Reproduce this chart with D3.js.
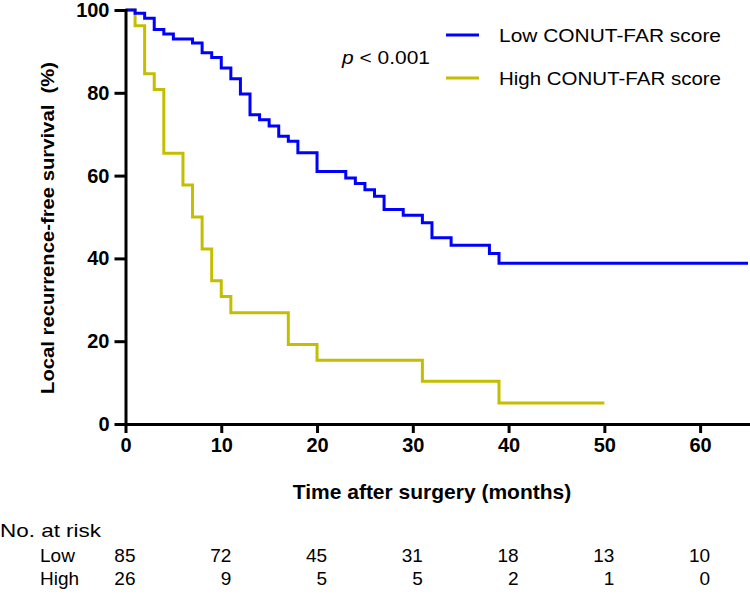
<!DOCTYPE html>
<html>
<head>
<meta charset="utf-8">
<script src="https://cdn.jsdelivr.net/npm/d3@7"></script>
<style>
  body { margin: 0; background: #fff; }
  text { font-family: Arial, "Liberation Sans", sans-serif; fill: #000; }
</style>
</head>
<body>
<svg id="chart"></svg>
<script>
'use strict'

const width = 750, height = 594

// Kaplan-Meier steps (months, % survival)
const lowTimes = [0, 1, 2, 3, 4, 5, 7, 8, 9, 10, 11, 12, 13, 14, 15, 16, 17, 18, 20, 23, 24, 25, 26, 27, 29, 31, 32, 34, 38, 39, 65]
const lowSurv  = [100, 99.2, 98.0, 95.3, 94.2, 93.0, 92.0, 89.7, 88.5, 86.0, 83.4, 79.7, 74.7, 73.5, 72.0, 69.5, 68.3, 65.5, 61.0, 59.4, 58.1, 56.6, 55.0, 51.8, 50.4, 48.6, 45.0, 43.2, 41.2, 38.8, 38.8]
const highTimes = [0, 1, 2, 3, 4, 6, 7, 8, 9, 10, 11, 17, 20, 31, 39, 50]
const highSurv  = [100, 96.2, 84.6, 80.8, 65.4, 57.7, 50.0, 42.3, 34.6, 30.8, 26.9, 19.2, 15.4, 10.3, 5.1, 5.1]

const xTicks = [0, 10, 20, 30, 40, 50, 60]
const yTicks = [0, 20, 40, 60, 80, 100]

// numbers at risk
const riskTimes = [0, 10, 20, 30, 40, 50, 60]
const riskLow  = [85, 72, 45, 31, 18, 13, 10]
const riskHigh = [26, 9, 5, 5, 2, 1, 0]

const groups = [
  { name: 'Low CONUT-FAR score', short: 'Low', color: '#0000ff', times: lowTimes, surv: lowSurv, risk: riskLow },
  { name: 'High CONUT-FAR score', short: 'High', color: '#c4be00', times: highTimes, surv: highSurv, risk: riskHigh }
]

const svg = d3.select('#chart')
  .attr('width', width)
  .attr('height', height)

const x = d3.scaleLinear().domain([0, 65]).range([125.5, 748])
const y = d3.scaleLinear().domain([0, 100]).range([424, 10])

// survival curves
const line = d3.line()
  .x(d => x(d[0]))
  .y(d => y(d[1]))
  .curve(d3.curveStepAfter)

// high group first so low is on top where they overlap
groups.slice().reverse().forEach(g => {
  svg.append('path')
    .datum(g.times.map((t, i) => [t, g.surv[i]]))
    .attr('d', line)
    .attr('fill', 'none')
    .attr('stroke', g.color)
    .attr('stroke-width', 3)
})

// axes
const yAxis = svg.append('g')
  .attr('transform', `translate(${x(0)},0)`)
  .call(d3.axisLeft(y).tickValues(yTicks).tickSize(11).tickSizeOuter(0).tickPadding(5))
const xAxis = svg.append('g')
  .attr('transform', `translate(0,${y(0)})`)
  .call(d3.axisBottom(x).tickValues(xTicks).tickSize(9).tickSizeOuter(0).tickPadding(5))

;[yAxis, xAxis].forEach(a => {
  a.selectAll('path, line').attr('stroke', '#000').attr('stroke-width', 3)
  a.select('.domain').attr('stroke-linecap', 'square')
  a.selectAll('text')
    .style('font-family', 'Arial, "Liberation Sans", sans-serif')
    .style('font-size', '20px')
    .style('font-weight', 'bold')
    .attr('fill', '#000')
})

// axis titles
svg.append('text')
  .attr('x', 432).attr('y', 499)
  .attr('text-anchor', 'middle')
  .style('font-size', '21px').style('font-weight', 'bold')
  .text('Time after surgery (months)')

svg.append('text')
  .attr('transform', 'translate(54,228) rotate(-90)')
  .attr('text-anchor', 'middle')
  .attr('textLength', 332).attr('lengthAdjust', 'spacingAndGlyphs')
  .style('font-size', '19px').style('font-weight', 'bold')
  .style('white-space', 'pre')
  .text('Local recurrence-free survival  (%)')

// legend
groups.forEach((g, i) => {
  const ly = 35 + i * 43
  svg.append('line')
    .attr('x1', 446).attr('x2', 479)
    .attr('y1', ly).attr('y2', ly)
    .attr('stroke', g.color).attr('stroke-width', 3)
  svg.append('text')
    .attr('x', 499).attr('y', ly + 7)
    .attr('textLength', 222).attr('lengthAdjust', 'spacingAndGlyphs')
    .style('font-size', '19px')
    .text(g.name)
})

const pText = svg.append('text')
  .attr('x', 342).attr('y', 64)
  .attr('textLength', 88).attr('lengthAdjust', 'spacingAndGlyphs')
  .style('font-size', '19px')
pText.append('tspan').style('font-style', 'italic').text('p')
pText.append('tspan').text(' < 0.001')

// numbers at risk table
svg.append('text')
  .attr('x', 0).attr('y', 537)
  .attr('textLength', 101).attr('lengthAdjust', 'spacingAndGlyphs')
  .style('font-size', '19px')
  .text('No. at risk')

groups.forEach((g, i) => {
  const ry = 562 + i * 23
  svg.append('text')
    .attr('x', 40).attr('y', ry)
    .style('font-size', '19px')
    .text(g.short)
  svg.selectAll(null)
    .data(g.risk)
    .enter().append('text')
      .attr('x', (d, j) => x(riskTimes[j]) + 10)
      .attr('y', ry)
      .attr('text-anchor', 'end')
      .style('font-size', '19px')
      .text(d => d)
})
</script>
</body>
</html>
